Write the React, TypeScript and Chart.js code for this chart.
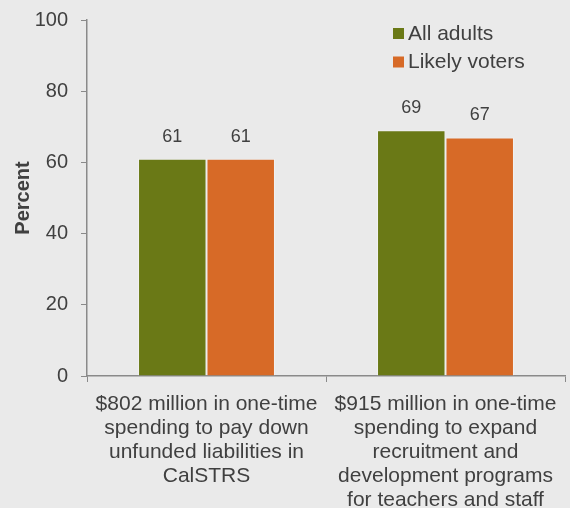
import React, { useEffect, useRef } from "react";
import { Chart, registerables } from "chart.js";

Chart.register(...registerables);

const categories: string[][] = [
  ["$802 million in one-time", "spending to pay down", "unfunded liabilities in", "CalSTRS"],
  ["$915 million in one-time", "spending to expand", "recruitment and", "development programs", "for teachers and staff"],
];
const seriesNames = ["All adults", "Likely voters"];
const allAdults = [61, 69];
const likelyVoters = [61, 67];
const yTicks = [0, 20, 40, 60, 80, 100];

const GREEN = "#6A7916";
const ORANGE = "#D76A27";
const TEXT = "#404040";
const AXIS = "#8A8A8A";
const FONT = "'Liberation Sans', Arial, sans-serif";

const dataLabels = {
  id: "dataLabels",
  afterDatasetsDraw(chart: any) {
    const ctx = chart.ctx;
    ctx.save();
    ctx.font = `18px ${FONT}`;
    ctx.fillStyle = TEXT;
    ctx.textAlign = "center";
    ctx.textBaseline = "middle";
    chart.data.datasets.forEach((ds: any, i: number) => {
      const meta = chart.getDatasetMeta(i);
      meta.data.forEach((bar: any, j: number) => {
        ctx.fillText(String(ds.data[j]), bar.x, bar.y - 22);
      });
    });
    ctx.restore();
  },
};

const insideLegend = {
  id: "insideLegend",
  afterDraw(chart: any) {
    const ctx = chart.ctx;
    ctx.save();
    ctx.font = `21px ${FONT}`;
    ctx.textBaseline = "middle";
    ctx.textAlign = "left";
    chart.data.datasets.forEach((ds: any, i: number) => {
      const y = 28 + i * 28.5;
      ctx.fillStyle = ds.backgroundColor;
      ctx.fillRect(393, y, 11, 11);
      ctx.fillStyle = TEXT;
      ctx.fillText(ds.label, 408, y + 6);
    });
    ctx.restore();
  },
};

export default function App() {
  const ref = useRef<HTMLCanvasElement>(null);
  useEffect(() => {
    if (!ref.current) return;
    const chart = new Chart(ref.current, {
      type: "bar",
      data: {
        labels: categories as any,
        datasets: [
          {
            label: seriesNames[0],
            data: allAdults,
            backgroundColor: GREEN,
            borderColor: "rgba(255,255,255,0.3)",
            borderWidth: 1,
          },
          {
            label: seriesNames[1],
            data: likelyVoters,
            backgroundColor: ORANGE,
            borderColor: "rgba(255,255,255,0.3)",
            borderWidth: 1,
          },
        ],
      },
      options: {
        responsive: false,
        animation: false,
        layout: { padding: { top: 20, right: 5, bottom: 0, left: 0 } },
        datasets: { bar: { barPercentage: 1, categoryPercentage: 0.573 } },
        plugins: {
          legend: { display: false },
          tooltip: { enabled: false },
        },
        scales: {
          x: {
            grid: {
              display: true,
              drawOnChartArea: false,
              drawTicks: true,
              tickLength: 6,
              color: AXIS,
              offset: true,
            },
            border: { display: true, color: AXIS, width: 1.5 },
            ticks: {
              color: TEXT,
              font: { family: FONT, size: 21, lineHeight: "24px" as any },
              padding: 10,
              maxRotation: 0,
              autoSkip: false,
            },
            afterFit(scale: any) {
              scale.height = 132;
              scale.paddingLeft = 0;
              scale.paddingRight = 0;
            },
          },
          y: {
            min: 0,
            max: 100,
            afterBuildTicks(scale: any) {
              scale.ticks = yTicks.map((v) => ({ value: v }));
            },
            grid: {
              display: true,
              drawOnChartArea: false,
              drawTicks: true,
              tickLength: 6,
              color: AXIS,
            },
            border: { display: true, color: AXIS, width: 1.5 },
            ticks: {
              color: TEXT,
              font: { family: FONT, size: 20 },
              padding: 13,
            },
            title: {
              display: true,
              text: "Percent",
              color: TEXT,
              font: { family: FONT, size: 20, weight: "bold" },
              padding: { top: 11, bottom: 0 },
            },
            afterFit(scale: any) {
              scale.width = 87;
              scale.paddingTop = 0;
              scale.paddingBottom = 0;
            },
          },
        },
      },
      plugins: [dataLabels, insideLegend],
    });
    return () => chart.destroy();
  }, []);

  return (
    <div
      style={{
        position: "fixed",
        left: 0,
        top: 0,
        width: 570,
        height: 508,
        background: "#EAEAEA",
      }}
    >
      <canvas ref={ref} width={570} height={508} style={{ display: "block", width: 570, height: 508 }} />
    </div>
  );
}
